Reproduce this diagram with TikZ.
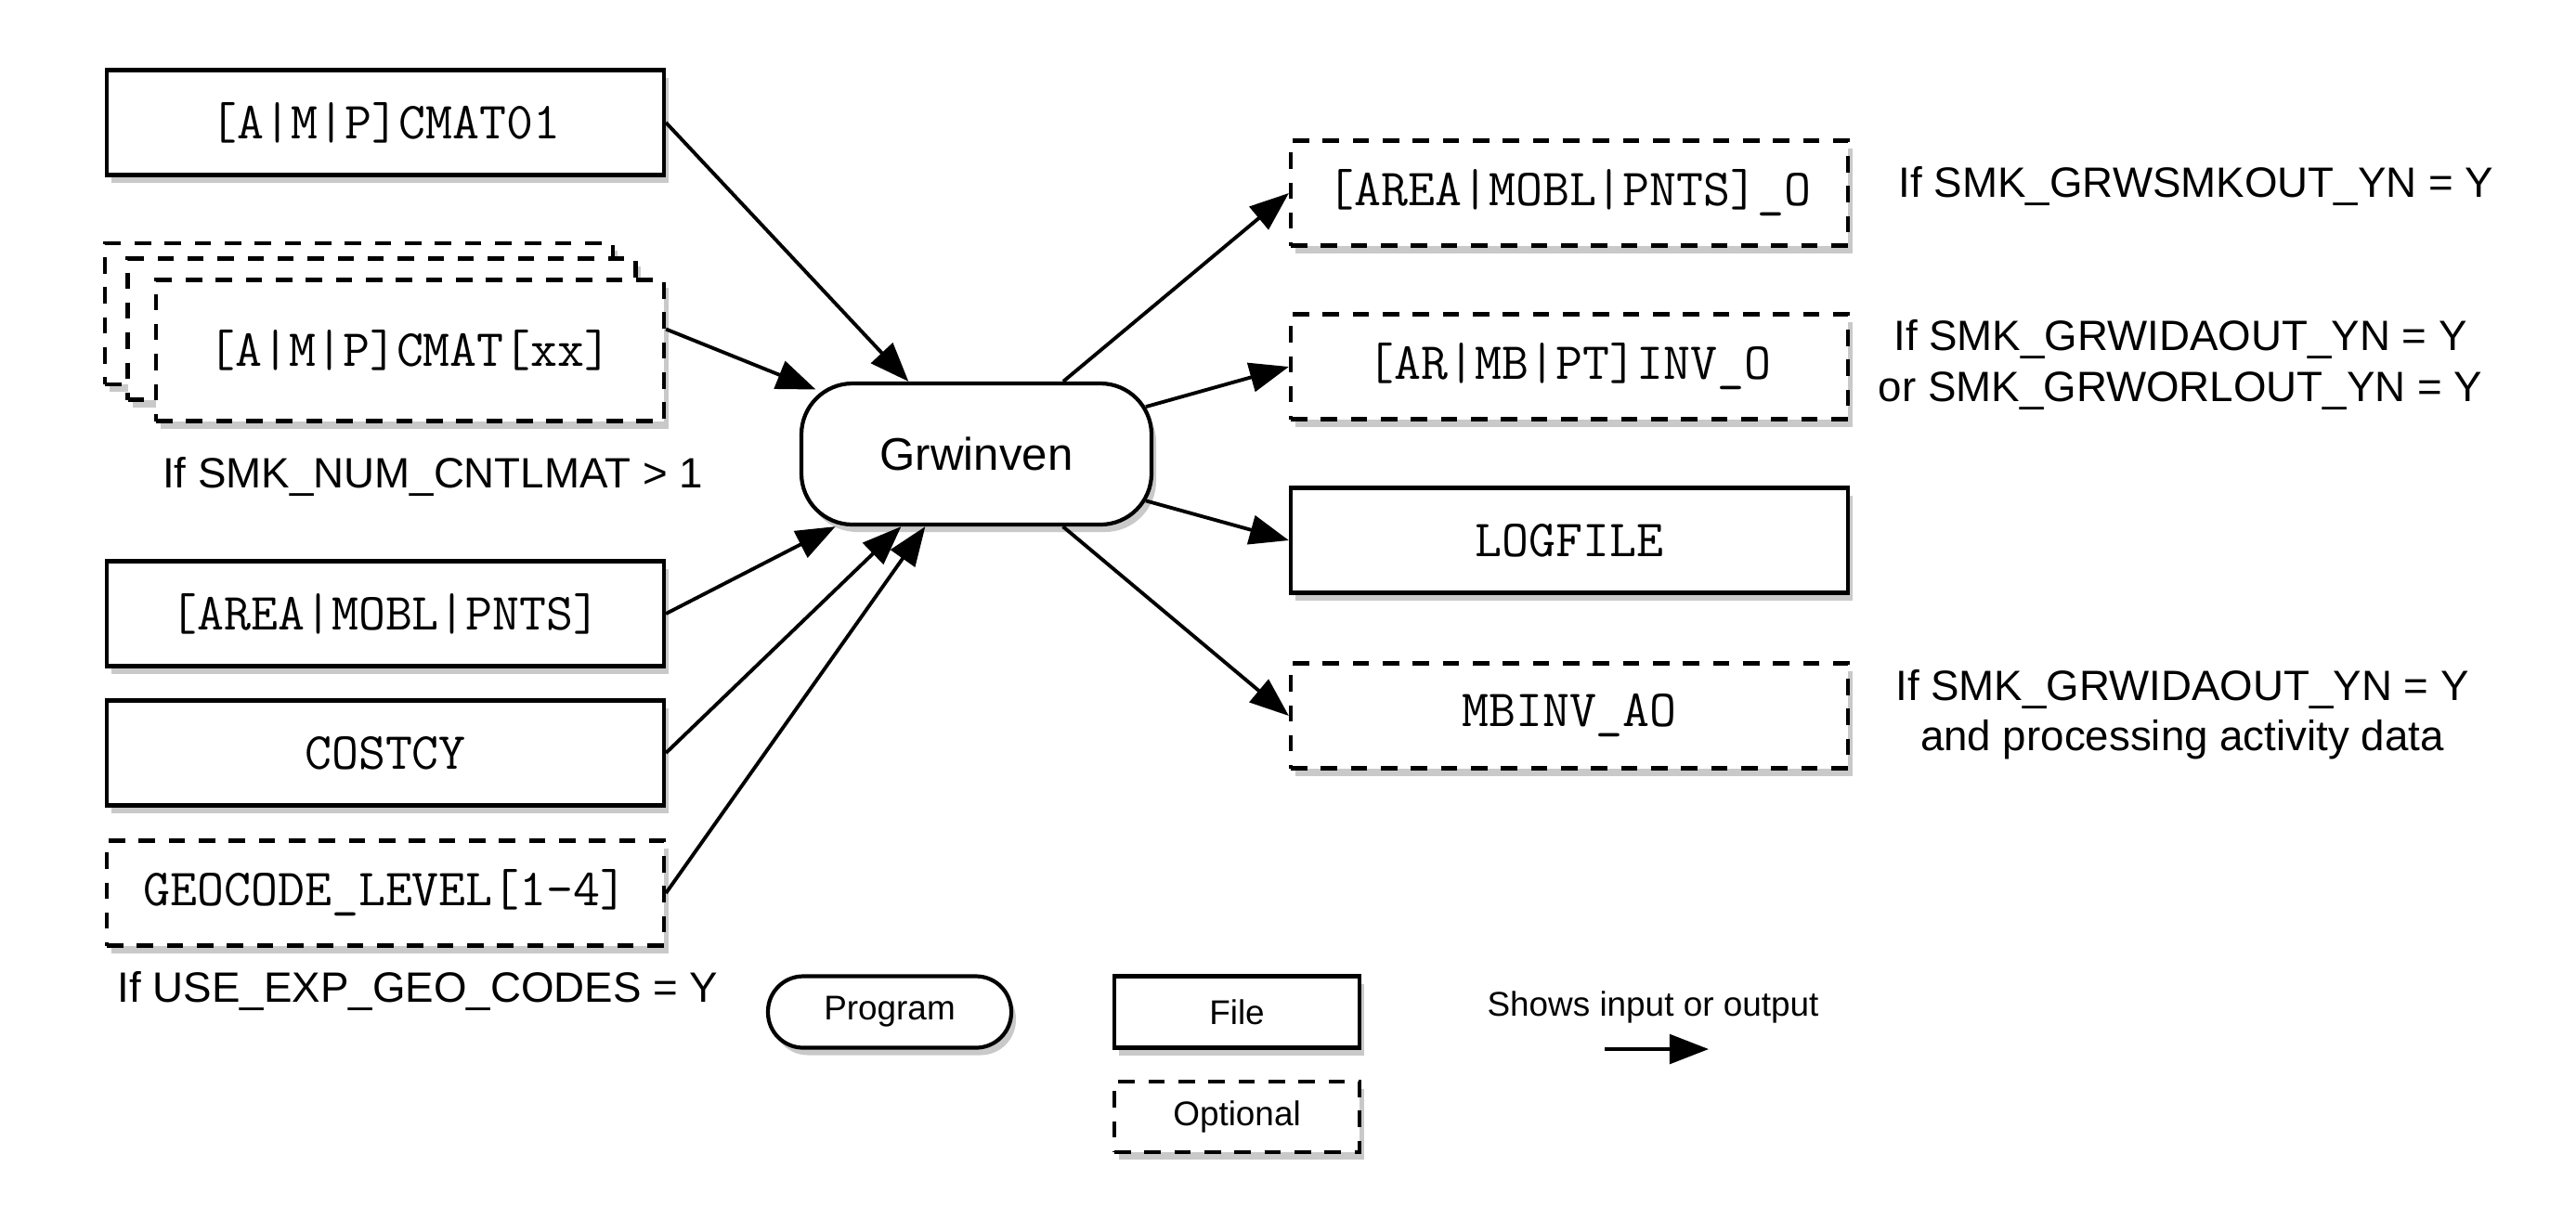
\documentclass[tikz,border=0pt]{standalone}
\usepackage{fontspec}
\setmainfont{Liberation Sans}
\usepackage{tikz}
\usetikzlibrary{arrows.meta,shadows}
\tikzset{
 shade/.style={drop shadow={shadow xshift=0.05cm, shadow yshift=-0.08cm, opacity=0.3, fill=black!70}},
 filebox/.style={draw, line width=1.2pt, fill=white, shade, minimum width=6cm, minimum height=1.13cm, inner sep=0pt, font=\ttfamily\fontsize{16}{18}\selectfont},
 optbox/.style={filebox, dash pattern=on 5pt off 4.2pt},
 stackbox/.style={optbox, minimum width=5.47cm, minimum height=1.52cm},
 progbox/.style={draw, line width=1.2pt, fill=white, shade, rounded corners=0.55cm, minimum width=3.77cm, minimum height=1.52cm, inner sep=0pt, font=\fontsize{14}{16}\selectfont},
 cond/.style={align=center, font=\fontsize{13}{15.4}\selectfont},
 legend/.style={font=\fontsize{10.5}{12}\selectfont},
 flow/.style={-{Triangle[length=12pt,width=9pt]}, line width=1.1pt}
}
\begin{document}
\begin{tikzpicture}
 \useasboundingbox (0,0) rectangle (27.74,-13.12);
 \node[filebox] (cmat01) at (4.15,-1.32) {[A|M|P]CMAT01};
 \node[stackbox] (back) at (3.865,-3.38) {};
 \node[stackbox] (mid) at (4.11,-3.545) {};
 \node[stackbox] (front) at (4.415,-3.775) {[A|M|P]CMAT[xx]};
 \coordinate (stackout) at (front.east |- mid.center);
 \node[cond] (cntl) at (4.66,-5.13) {If SMK\_NUM\_CNTLMAT > 1};
 \node[filebox] (areain) at (4.15,-6.61) {[AREA|MOBL|PNTS]};
 \node[filebox] (costcy) at (4.15,-8.11) {COSTCY};
 \node[optbox] (geocode) at (4.15,-9.62) {GEOCODE\_LEVEL[1-4]};
 \node[cond] (geo) at (4.5,-10.67) {If USE\_EXP\_GEO\_CODES = Y};

 \node[progbox] (grw) at (10.515,-4.89) {Grwinven};

 \node[optbox] (areaout) at (16.9,-2.08) {[AREA|MOBL|PNTS]\_O};
 \node[optbox] (invout) at (16.9,-3.95) {[AR|MB|PT]INV\_O};
 \node[filebox] (logfile) at (16.9,-5.82) {LOGFILE};
 \node[optbox] (mbinv) at (16.9,-7.71) {MBINV\_AO};
 \node[cond] (smkout) at (23.65,-2.0) {If SMK\_GRWSMKOUT\_YN = Y};
 \node[cond] (idaout) at (23.48,-3.93) {If SMK\_GRWIDAOUT\_YN = Y\\or SMK\_GRWORLOUT\_YN = Y};
 \node[cond] (actout) at (23.5,-7.7) {If SMK\_GRWIDAOUT\_YN = Y\\and processing activity data};

 \draw[flow] (cmat01.east) -- (grw);
 \draw[flow, shorten >=-0.19cm] (stackout) -- (grw);
 \draw[flow] (areain.east) -- (grw);
 \draw[flow] (costcy.east) -- (grw);
 \draw[flow] (geocode.east) -- (grw);
 \draw[flow] (grw) -- (areaout.west);
 \draw[flow, shorten <=-0.085cm] (grw) -- (invout.west);
 \draw[flow, shorten <=-0.085cm] (grw) -- (logfile.west);
 \draw[flow] (grw) -- (mbinv.west);

 \node[progbox, legend, rounded corners=0.38cm, minimum width=2.62cm, minimum height=0.77cm] (prog) at (9.58,-10.9) {Program};
 \node[filebox, legend, minimum width=2.64cm, minimum height=0.77cm] (file) at (13.32,-10.9) {File};
 \node[optbox, legend, minimum width=2.64cm, minimum height=0.76cm] (opt) at (13.32,-12.03) {Optional};
 \node[legend] (shows) at (17.8,-10.85) {Shows input or output};
 \coordinate (ioa) at (17.28,-11.3);
 \coordinate (iob) at (18.4,-11.3);
 \draw[flow] (ioa) -- (iob);
\end{tikzpicture}
\end{document}
